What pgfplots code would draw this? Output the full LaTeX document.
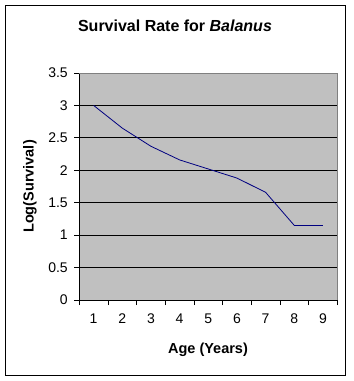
\documentclass[border=0pt]{standalone}
\usepackage{pgfplots}
\pgfplotsset{compat=1.18}
\usepackage{fontspec}
\setmainfont{Liberation Sans}
\definecolor{plotgray}{HTML}{C0C0C0}
\definecolor{navyline}{HTML}{000080}
\begin{document}
\begin{tikzpicture}[x=1pt,y=1pt]
\path[use as bounding box] (0,0) rectangle (354,381);
\draw[black, line width=1pt] (5.5,5.5) rectangle (345.5,375.5);
\node[font=\fontsize{16}{18}\selectfont\bfseries] at (175,355) {Survival Rate for \textit{Balanus}};
\node[font=\fontsize{14.5}{16}\selectfont\bfseries, rotate=90] at (30,194.5) {Log(Survival)};
\node[font=\fontsize{14.5}{16}\selectfont\bfseries] at (208,31) {Age (Years)};
\begin{axis}[
  at={(79.3pt,81pt)}, anchor=south west,
  scale only axis, width=258pt, height=227pt,
  xmin=0.5, xmax=9.5, ymin=0, ymax=3.5,
  axis background/.style={fill=plotgray},
  axis x line*=bottom, axis y line*=left,
  axis line style={black, line width=0.8pt, -},
  ytick={0,0.5,...,3.5},
  ymajorgrids, grid style={black, line width=0.8pt},
  xtick={0.5,1.5,...,9.5}, xticklabels={},
  extra x ticks={1,...,9},
  extra x tick labels={1,2,3,4,5,6,7,8,9},
  extra x tick style={major tick length=0pt, grid=none},
  tick align=outside, major tick length=5pt,
  tick style={black, line width=0.8pt},
  ticklabel style={font=\fontsize{14}{16}\selectfont},
  /pgf/number format/assume math mode=true,
  yticklabel style={xshift=-3pt},
  xticklabel style={yshift=-10pt},
  clip=false,
]
\draw[gray, line width=0.8pt] (axis cs:0.5,3.5) -- (axis cs:9.5,3.5) -- (axis cs:9.5,0);
\addplot[navyline, line width=0.8pt, mark=none] coordinates {
(1,3.00) (2,2.65) (3,2.37) (4,2.16) (5,2.02) (6,1.88) (7,1.66) (8,1.15) (9,1.15)
};
\end{axis}
\end{tikzpicture}
\end{document}
